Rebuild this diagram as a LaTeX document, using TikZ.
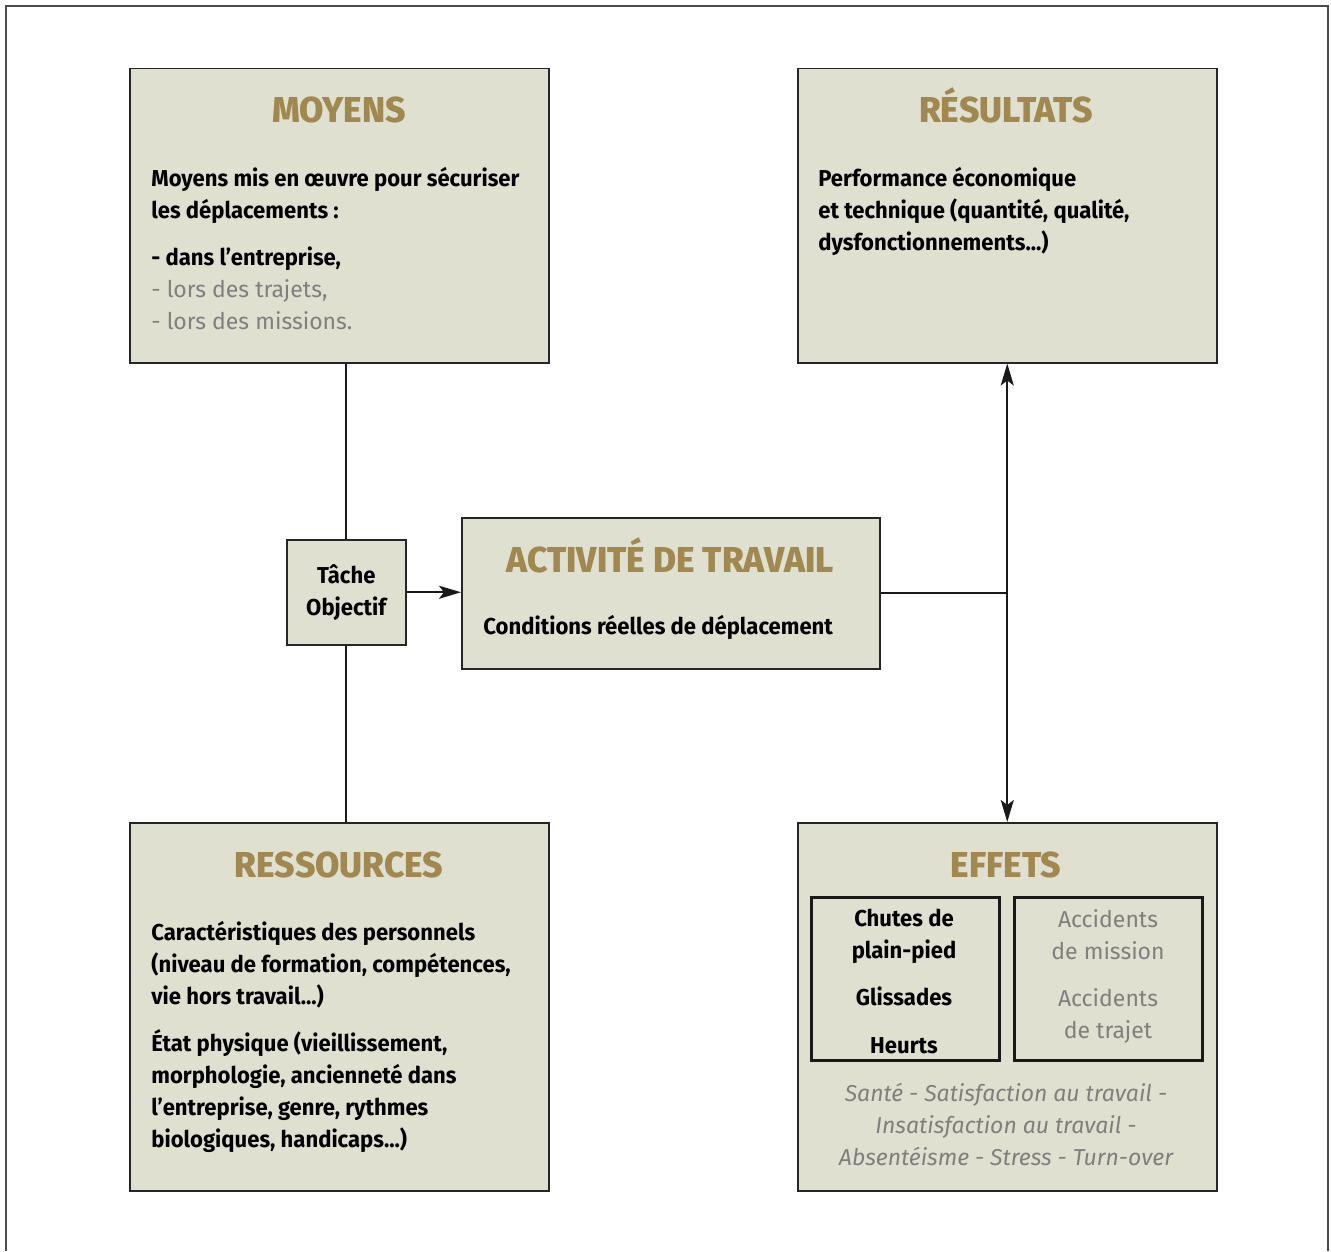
\documentclass[tikz,border=0pt]{standalone}
\usepackage{fontspec}
\setmainfont{Fira Sans}[BoldFeatures={FakeStretch=0.96}]
\newfontfamily\headfont{Fira Sans}[UprightFont={* ExtraBold}, FakeStretch=0.98]
\usepackage{xcolor}
\usetikzlibrary{arrows,arrows.meta,positioning,calc}

\definecolor{boxfill}{HTML}{E0E0D1}
\definecolor{titlegold}{HTML}{A08850}
\definecolor{softgrey}{HTML}{7F7F7F}

\tikzset{
  box/.style={draw=black!85, line width=0.75pt, fill=boxfill, anchor=north west, inner sep=0pt},
  bigbox/.style={box, minimum width=209.5pt, minimum height=147pt},
  subbox/.style={draw=black!90, line width=1.5pt, anchor=north west, minimum width=94pt, minimum height=81.5pt, inner sep=0pt},
  heading/.style={text=titlegold, font=\fontsize{18}{20}\selectfont\headfont, inner sep=0pt, anchor=base},
  bodytext/.style={anchor=north west, align=left, inner sep=0pt, font=\fontsize{11.5}{16}\selectfont\bfseries},
  greytext/.style={text=softgrey, font=\fontsize{11.5}{16}\selectfont},
  link/.style={line width=1pt, black!90},
  sharp/.tip={Stealth[length=11pt, width=6.5pt, inset=2.5pt]}
}

\begin{document}
\begin{tikzpicture}[x=0.5pt, y=-0.5pt]
  \useasboundingbox (0,0) rectangle (1331,1251);
  \draw[black!70, line width=0.75pt] (6,1251) -- (6,6) -- (1328,6) -- (1328,1251);

  % the four corner boxes
  \node[bigbox] (moyens) at (129,68) {};
  \node[bigbox] (resultats) at (797,68) {};
  \node[bigbox, minimum height=184pt] (ressources) at (129,822) {};
  \node[bigbox, minimum height=184pt] (effets) at (797,822) {};

  % middle row
  \node[box, minimum width=59.5pt, minimum height=52.5pt, align=center,
        font=\fontsize{11.5}{16}\selectfont\bfseries] (tache) at (286,539) {T\^ache\\Objectif};
  \node[box, minimum width=209pt, minimum height=75.5pt] (activite) at (461,517) {};

  % titles
  \node[heading] (moyenstitle) at (339,123) {MOYENS};
  \node[heading] (resultatstitle) at (1006,123) {RÉSULTATS};
  \node[heading] (activitetitle) at (670,572) {ACTIVITÉ DE TRAVAIL};
  \node[heading] (ressourcestitle) at (339,877) {RESSOURCES};
  \node[heading] (effetstitle) at (1006,877) {EFFETS};

  % texts
  \node[bodytext] (moyenstext) at (151,167) {Moyens mis en œuvre pour sécuriser\\
    les déplacements :\\[7.5pt]
    - dans l’entreprise,\\
    {\mdseries\color{softgrey}- lors des trajets,}\\
    {\mdseries\color{softgrey}- lors des missions.}};
  \node[bodytext] (resultatstext) at (818,167) {Performance économique\\
    et technique (quantité, qualité,\\
    dysfonctionnements...)};
  \node[bodytext, anchor=west] (activitetext) at (483,627) {Conditions réelles de déplacement};
  \node[bodytext] (ressourcestext) at (151,921) {Caractéristiques des personnels\\
    (niveau de formation, compétences,\\
    vie hors travail...)\\[7.5pt]
    État physique (vieillissement,\\
    morphologie, ancienneté dans\\
    l’entreprise, genre, rythmes\\
    biologiques, handicaps...)};

  % inside EFFETS
  \node[subbox] (chutes) at (810,896) {};
  \node[subbox] (accidents) at (1013,896) {};
  \node[align=center, font=\fontsize{11.5}{16}\selectfont\bfseries, anchor=north, inner sep=0pt]
    (chutestext) at (904,909) {Chutes de\\plain-pied\\[7.5pt]Glissades\\[8pt]Heurts};
  \node[greytext, align=center, anchor=north, inner sep=0pt]
    (accidentstext) at (1108,909) {Accidents\\de mission\\[7.5pt]Accidents\\de trajet};
  \node[greytext, align=center, font=\fontsize{11.5}{16}\selectfont\itshape, anchor=north, inner sep=0pt]
    (effetstext) at (1006,1083) {Santé - Satisfaction au travail -\\
    Insatisfaction au travail -\\
    Absentéisme - Stress - Turn-over};

  % connectors
  \coordinate (split) at (activite.east -| resultats.south);
  \draw[link] (tache.north) -- (tache.north |- moyens.south);
  \draw[link] (tache.south) -- (tache.south |- ressources.north);
  \draw[link, -sharp] (tache.east) -- (tache.east -| activite.west);
  \draw[link] (activite.east) -- (split);
  \draw[link, sharp-sharp] (resultats.south) -- (effets.north);
\end{tikzpicture}
\end{document}
